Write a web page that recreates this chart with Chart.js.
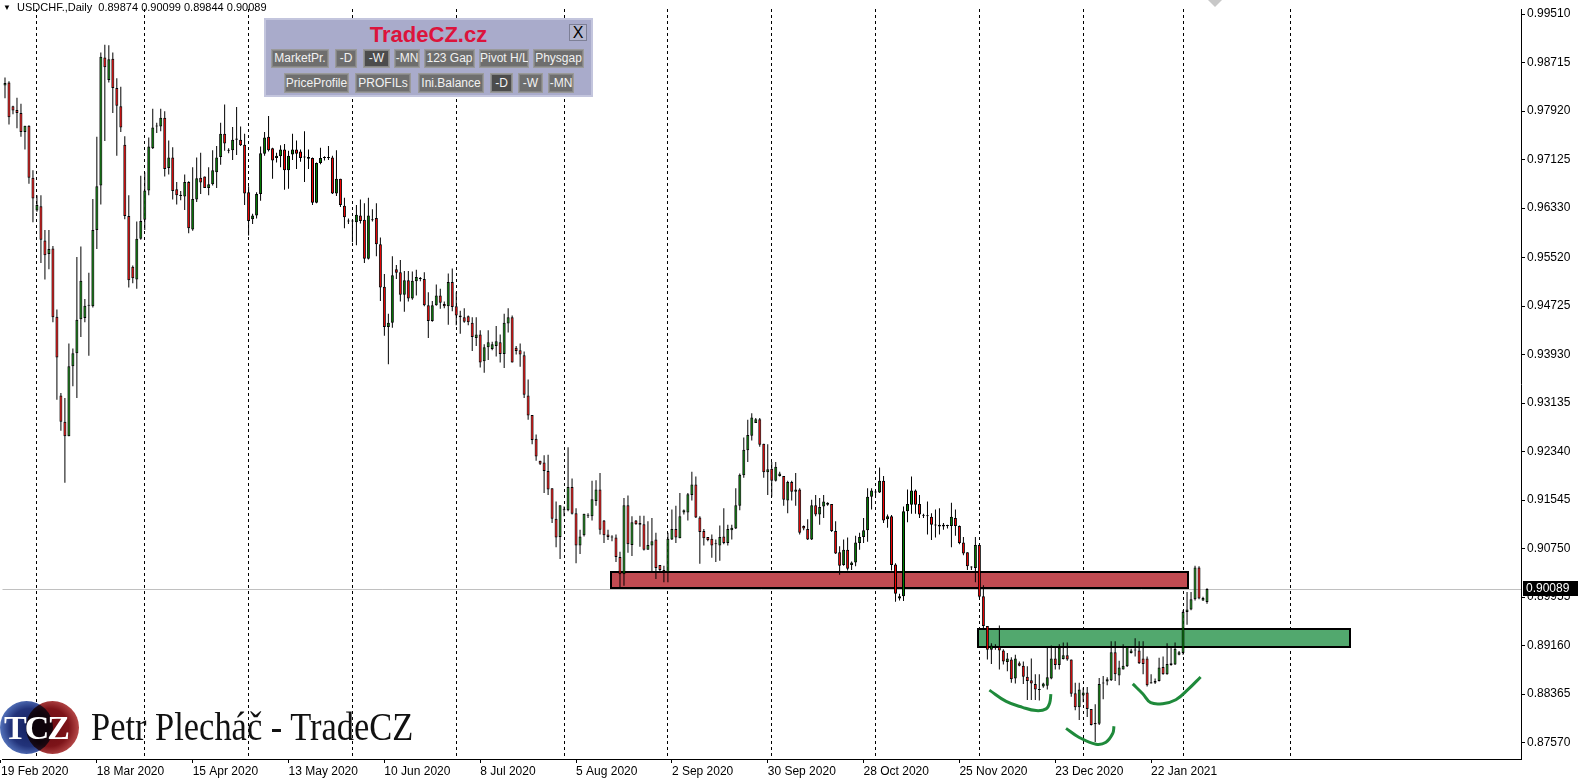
<!DOCTYPE html>
<html>
<head>
<meta charset="utf-8">
<script src="https://cdn.jsdelivr.net/npm/chart.js@4.4.1/dist/chart.umd.min.js"></script>
<style>
  html, body { margin: 0; padding: 0; background: #fff; }
  #wrap { position: relative; width: 1587px; height: 781px; overflow: hidden; }
  #chart { position: absolute; left: 0; top: 0; }
  #hdr { position: absolute; left: 3px; top: 1px; font: 11px "Liberation Sans", Arial, sans-serif; color: #000; white-space: pre; }
  #hdr .tri { font-size: 8px; position: relative; top: -1px; }
  #panel { position: absolute; left: 264px; top: 18px; width: 329px; height: 79px; box-sizing: border-box;
           background: #a9abcb; border: 2px solid #c3c5dd; }
  #panel .title { position: absolute; left: 0; right: 0; top: 2px; text-align: center;
                  font: bold 22px "Liberation Sans", Arial, sans-serif; color: #dc143c; }
  #panel .close { position: absolute; left: 303px; top: 4px; width: 18px; height: 17px; box-sizing: border-box;
                  border: 1px solid #7d7f96; background: #b5b7cf; font: 16px "Liberation Sans", Arial, sans-serif;
                  line-height: 15px; text-align: center; color: #000; }
  #panel .btn { position: absolute; box-sizing: border-box; background: #6e6e6e; border: 1px solid #9a9a9a;
                box-shadow: inset 0 0 0 1px #858585;
                color: #f2f2f2; font: 12px "Liberation Sans", Arial, sans-serif; text-align: center;
                white-space: nowrap; overflow: hidden; }
  #panel .r1 { top: 29px; height: 19px; line-height: 17px; }
  #panel .r2 { top: 53px; height: 20px; line-height: 18px; }
  #panel .dark { background: #4c4c4c; }
  #logo { position: absolute; left: 0; top: 701px; width: 80px; height: 54px; }
  #logo .c { position: absolute; top: 0; width: 53px; height: 53px; border-radius: 50%; }
  #logo .blue { left: 0; background: radial-gradient(circle at 55% 50%, #14215e 0%, #22337a 48%, #5c7dc6 78%, #6d8dd2 100%); }
  #logo .red { left: 26px; background: radial-gradient(circle at 45% 50%, #6a0c12 0%, #7d1419 48%, #bf5150 78%, #c86060 100%);
               mix-blend-mode: multiply; }
  #logo .tcz { position: absolute; left: 4px; top: 8px; font: bold 34px "Liberation Serif", "Times New Roman", serif;
               color: #fff; letter-spacing: -2px; }
  #sig { position: absolute; left: 91px; top: 702px; font: 41px "Liberation Serif", "Times New Roman", serif;
         color: #111; transform: scaleX(0.84); transform-origin: left top; white-space: nowrap; }
  #shift { position: absolute; left: 1208px; top: 0; width: 0; height: 0;
           border-left: 7px solid transparent; border-right: 7px solid transparent; border-top: 7px solid #c8c8c8; }
</style>
</head>
<body>
<div id="wrap">
  <canvas id="chart" width="1587" height="781"></canvas>
  <div id="hdr"><span class="tri">&#9660;</span>  USDCHF.,Daily  0.89874 0.90099 0.89844 0.90089</div>
  <div id="panel">
    <div class="title">TradeCZ.cz</div>
    <div class="close">X</div>
    <div class="btn r1" style="left:5px;width:58px">MarketPr.</div>
    <div class="btn r1" style="left:69px;width:22px">-D</div>
    <div class="btn r1 dark" style="left:97px;width:27px">-W</div>
    <div class="btn r1" style="left:128px;width:26px">-MN</div>
    <div class="btn r1" style="left:158px;width:51px">123 Gap</div>
    <div class="btn r1" style="left:213px;width:50px">Pivot H/L</div>
    <div class="btn r1" style="left:267px;width:51px">Physgap</div>
    <div class="btn r2" style="left:18px;width:65px">PriceProfile</div>
    <div class="btn r2" style="left:89px;width:56px">PROFILs</div>
    <div class="btn r2" style="left:152px;width:66px">Ini.Balance</div>
    <div class="btn r2 dark" style="left:224px;width:23px">-D</div>
    <div class="btn r2" style="left:252px;width:25px">-W</div>
    <div class="btn r2" style="left:282px;width:26px">-MN</div>
  </div>
  <div id="logo"><div class="c blue"></div><div class="c red"></div><div class="tcz">TCZ</div></div>
  <div id="sig">Petr Plecháč - TradeCZ</div>
  <div id="shift"></div>
</div>
<script>
// daily USDCHF candles (bar 0 = first visible bar)
const opens = [
  0.9834,0.9839,0.9800,0.9794,0.9789,0.9758,0.9768,0.9683,0.9629,0.9636,
  0.9580,0.9558,0.9567,0.9455,0.9326,0.9283,0.9259,0.9374,0.9395,0.9451,
  0.9453,0.9473,0.9472,0.9597,0.9670,0.9880,0.9843,0.9878,0.9830,0.9800,
  0.9737,0.9620,0.9537,0.9516,0.9583,0.9614,0.9662,0.9731,0.9767,0.9767,
  0.9781,0.9699,0.9716,0.9664,0.9655,0.9652,0.9676,0.9598,0.9647,0.9683,
  0.9685,0.9666,0.9672,0.9692,0.9717,0.9755,0.9727,0.9728,0.9745,0.9745,
  0.9737,0.9659,0.9615,0.9621,0.9656,0.9722,0.9750,0.9731,0.9715,0.9718,
  0.9729,0.9695,0.9721,0.9729,0.9726,0.9716,0.9717,0.9715,0.9642,0.9707,
  0.9715,0.9715,0.9716,0.9657,0.9681,0.9637,0.9611,0.9611,0.9610,0.9621,
  0.9614,0.9550,0.9613,0.9617,0.9574,0.9504,0.9438,0.9445,0.9533,0.9528,
  0.9491,0.9515,0.9485,0.9513,0.9517,0.9517,0.9474,0.9448,0.9474,0.9490,
  0.9476,0.9472,0.9512,0.9472,0.9457,0.9454,0.9456,0.9445,0.9420,0.9426,
  0.9382,0.9405,0.9402,0.9407,0.9413,0.9394,0.9444,0.9454,0.9404,0.9400,
  0.9392,0.9326,0.9294,0.9255,0.9219,0.9216,0.9202,0.9174,0.9124,0.9094,
  0.9138,0.9138,0.9176,0.9133,0.9080,0.9097,0.9129,0.9128,0.9153,0.9172,
  0.9121,0.9098,0.9093,0.9093,0.9061,0.9033,0.9146,0.9081,0.9121,0.9117,
  0.9115,0.9073,0.9080,0.9090,0.9048,0.9040,0.9036,0.9090,0.9107,0.9092,
  0.9134,0.9134,0.9163,0.9180,0.9126,0.9104,0.9094,0.9091,0.9082,0.9080,
  0.9095,0.9084,0.9105,0.9108,0.9145,0.9195,0.9236,0.9260,0.9281,0.9287,
  0.9247,0.9200,0.9206,0.9186,0.9194,0.9194,0.9154,0.9184,0.9168,0.9172,
  0.9112,0.9107,0.9090,0.9146,0.9131,0.9144,0.9147,0.9148,0.9104,0.9069,
  0.9048,0.9073,0.9048,0.9052,0.9084,0.9094,0.9105,0.9160,0.9167,0.9167,
  0.9186,0.9123,0.9128,0.9049,0.8993,0.8997,0.9136,0.9147,0.9170,0.9148,
  0.9130,0.9128,0.9127,0.9113,0.9114,0.9114,0.9112,0.9112,0.9125,0.9112,
  0.9085,0.9069,0.9044,0.9043,0.9081,0.8997,0.8948,0.8909,0.8912,0.8914,
  0.8908,0.8889,0.8893,0.8862,0.8887,0.8883,0.8865,0.8859,0.8853,0.8843,
  0.8849,0.8850,0.8862,0.8895,0.8884,0.8894,0.8900,0.8893,0.8838,0.8815,
  0.8834,0.8839,0.8812,0.8789,0.8788,0.8854,0.8857,0.8859,0.8905,0.8867,
  0.8877,0.8882,0.8904,0.8908,0.8908,0.8895,0.8895,0.8856,0.8855,0.8858,
  0.8881,0.8869,0.8884,0.8885,0.8901,0.8904,0.8971,0.8975,0.8992,0.9044,
  0.8990,0.89874
];
const highs = [
  0.9847,0.9841,0.9801,0.9814,0.9804,0.9768,0.9769,0.9695,0.9654,0.9654,
  0.9597,0.9597,0.9571,0.9467,0.9330,0.9322,0.9411,0.9403,0.9553,0.9570,
  0.9484,0.9527,0.9648,0.9750,0.9888,0.9901,0.9900,0.9888,0.9846,0.9832,
  0.9751,0.9654,0.9539,0.9611,0.9686,0.9692,0.9749,0.9796,0.9773,0.9796,
  0.9792,0.9744,0.9733,0.9676,0.9661,0.9688,0.9677,0.9700,0.9716,0.9724,
  0.9685,0.9700,0.9728,0.9735,0.9773,0.9803,0.9731,0.9766,0.9799,0.9767,
  0.9755,0.9669,0.9624,0.9659,0.9734,0.9758,0.9784,0.9732,0.9724,0.9736,
  0.9738,0.9727,0.9755,0.9744,0.9729,0.9759,0.9729,0.9716,0.9708,0.9732,
  0.9718,0.9735,0.9719,0.9728,0.9681,0.9650,0.9616,0.9613,0.9638,0.9647,
  0.9641,0.9650,0.9631,0.9641,0.9585,0.9525,0.9460,0.9554,0.9540,0.9548,
  0.9530,0.9530,0.9529,0.9532,0.9520,0.9528,0.9495,0.9481,0.9508,0.9501,
  0.9480,0.9526,0.9534,0.9495,0.9465,0.9469,0.9457,0.9454,0.9454,0.9433,
  0.9410,0.9433,0.9414,0.9440,0.9426,0.9460,0.9469,0.9457,0.9407,0.9411,
  0.9398,0.9352,0.9294,0.9262,0.9219,0.9228,0.9229,0.9174,0.9152,0.9146,
  0.9144,0.9241,0.9190,0.9141,0.9106,0.9132,0.9133,0.9186,0.9187,0.9199,
  0.9122,0.9106,0.9097,0.9098,0.9070,0.9158,0.9162,0.9128,0.9122,0.9129,
  0.9129,0.9120,0.9125,0.9101,0.9048,0.9047,0.9101,0.9139,0.9145,0.9166,
  0.9139,0.9166,0.9201,0.9193,0.9128,0.9107,0.9094,0.9098,0.9090,0.9113,
  0.9141,0.9114,0.9114,0.9174,0.9198,0.9257,0.9286,0.9297,0.9289,0.9289,
  0.9247,0.9246,0.9217,0.9217,0.9201,0.9194,0.9186,0.9186,0.9199,0.9174,
  0.9113,0.9123,0.9155,0.9163,0.9158,0.9163,0.9151,0.9148,0.9120,0.9079,
  0.9090,0.9093,0.9054,0.9096,0.9101,0.9125,0.9174,0.9174,0.9172,0.9208,
  0.9194,0.9131,0.9130,0.9051,0.9001,0.9144,0.9172,0.9193,0.9172,0.9163,
  0.9132,0.9152,0.9133,0.9139,0.9141,0.9117,0.9114,0.9150,0.9139,0.9113,
  0.9094,0.9069,0.9046,0.9094,0.9082,0.9015,0.8948,0.8920,0.8918,0.8949,
  0.8910,0.8904,0.8897,0.8901,0.8890,0.8890,0.8882,0.8895,0.8869,0.8869,
  0.8855,0.8913,0.8916,0.8912,0.8918,0.8921,0.8921,0.8893,0.8855,0.8855,
  0.8847,0.8848,0.8812,0.8820,0.8863,0.8866,0.8864,0.8923,0.8923,0.8891,
  0.8918,0.8915,0.8911,0.8928,0.8923,0.8923,0.8898,0.8869,0.8862,0.8896,
  0.8898,0.8920,0.8912,0.8921,0.8907,0.8974,0.9004,0.9004,0.9047,0.9046,
  0.8996,0.90099
];
const lows = [
  0.9813,0.9770,0.9787,0.9764,0.9750,0.9729,0.9673,0.9610,0.9627,0.9543,
  0.9516,0.9533,0.9446,0.9319,0.9268,0.9183,0.9259,0.9341,0.9322,0.9422,
  0.9446,0.9391,0.9470,0.9566,0.9639,0.9743,0.9839,0.9789,0.9719,0.9758,
  0.9615,0.9503,0.9510,0.9501,0.9581,0.9597,0.9654,0.9730,0.9756,0.9759,
  0.9685,0.9688,0.9647,0.9639,0.9646,0.9630,0.9592,0.9596,0.9643,0.9656,
  0.9666,0.9654,0.9670,0.9666,0.9704,0.9727,0.9723,0.9712,0.9720,0.9735,
  0.9638,0.9588,0.9607,0.9616,0.9645,0.9719,0.9726,0.9681,0.9708,0.9700,
  0.9663,0.9665,0.9712,0.9697,0.9709,0.9676,0.9697,0.9638,0.9641,0.9705,
  0.9711,0.9712,0.9656,0.9653,0.9635,0.9600,0.9607,0.9577,0.9572,0.9608,
  0.9543,0.9549,0.9611,0.9554,0.9481,0.9424,0.9377,0.9437,0.9517,0.9480,
  0.9463,0.9480,0.9483,0.9490,0.9513,0.9472,0.9420,0.9447,0.9473,0.9468,
  0.9469,0.9442,0.9464,0.9441,0.9427,0.9445,0.9441,0.9399,0.9407,0.9372,
  0.9363,0.9384,0.9400,0.9390,0.9380,0.9371,0.9429,0.9380,0.9393,0.9373,
  0.9322,0.9286,0.9246,0.9219,0.9212,0.9166,0.9163,0.9117,0.9077,0.9058,
  0.9128,0.9136,0.9131,0.9051,0.9066,0.9095,0.9125,0.9121,0.9145,0.9098,
  0.9084,0.9089,0.9087,0.9053,0.9012,0.9014,0.9068,0.9063,0.9114,0.9078,
  0.9072,0.9073,0.9036,0.9025,0.9036,0.9020,0.9020,0.9089,0.9084,0.9092,
  0.9131,0.9121,0.9154,0.9125,0.9050,0.9080,0.9087,0.9060,0.9053,0.9055,
  0.9082,0.9080,0.9090,0.9107,0.9138,0.9191,0.9217,0.9252,0.9281,0.9242,
  0.9191,0.9163,0.9160,0.9185,0.9193,0.9145,0.9133,0.9154,0.9145,0.9098,
  0.9105,0.9089,0.9089,0.9128,0.9114,0.9125,0.9145,0.9102,0.9066,0.9032,
  0.9047,0.9039,0.9040,0.9046,0.9073,0.9084,0.9086,0.9139,0.9161,0.9166,
  0.9117,0.9109,0.9039,0.8988,0.8990,0.8989,0.9118,0.9132,0.9132,0.9125,
  0.9125,0.9098,0.9089,0.9093,0.9098,0.9106,0.9108,0.9077,0.9096,0.9082,
  0.9064,0.9040,0.9040,0.9020,0.8994,0.8944,0.8893,0.8886,0.8909,0.8877,
  0.8885,0.8874,0.8855,0.8854,0.8882,0.8853,0.8827,0.8827,0.8827,0.8826,
  0.8847,0.8844,0.8861,0.8877,0.8877,0.8893,0.8891,0.8832,0.8810,0.8794,
  0.8823,0.8799,0.8785,0.8758,0.8786,0.8828,0.8851,0.8858,0.8858,0.8851,
  0.8877,0.8881,0.8903,0.8898,0.8886,0.8869,0.8849,0.8854,0.8853,0.8857,
  0.8868,0.8868,0.8883,0.8884,0.8900,0.8901,0.8950,0.8974,0.8990,0.8992,
  0.8989,0.89844
];
const closes = [
  0.9838,0.9782,0.9793,0.9789,0.9758,0.9768,0.9683,0.9649,0.9638,0.9581,
  0.9556,0.9566,0.9454,0.9388,0.9283,0.9259,0.9374,0.9395,0.9450,0.9514,
  0.9473,0.9473,0.9597,0.9669,0.9881,0.9864,0.9877,0.9830,0.9801,0.9765,
  0.9620,0.9515,0.9518,0.9583,0.9612,0.9662,0.9734,0.9765,0.9768,0.9781,
  0.9697,0.9716,0.9661,0.9654,0.9653,0.9676,0.9600,0.9648,0.9682,0.9675,
  0.9666,0.9672,0.9695,0.9716,0.9755,0.9739,0.9727,0.9745,0.9747,0.9736,
  0.9657,0.9612,0.9621,0.9656,0.9723,0.9749,0.9728,0.9711,0.9719,0.9729,
  0.9695,0.9719,0.9729,0.9722,0.9715,0.9716,0.9714,0.9642,0.9707,0.9715,
  0.9715,0.9716,0.9657,0.9681,0.9638,0.9618,0.9611,0.9611,0.9622,0.9612,
  0.9550,0.9621,0.9615,0.9574,0.9503,0.9438,0.9445,0.9523,0.9527,0.9491,
  0.9515,0.9485,0.9514,0.9520,0.9517,0.9474,0.9448,0.9474,0.9490,0.9478,
  0.9472,0.9512,0.9471,0.9457,0.9454,0.9447,0.9446,0.9422,0.9426,0.9380,
  0.9405,0.9413,0.9410,0.9415,0.9394,0.9445,0.9454,0.9380,0.9399,0.9393,
  0.9327,0.9293,0.9253,0.9226,0.9214,0.9202,0.9172,0.9124,0.9093,0.9146,
  0.9138,0.9176,0.9132,0.9080,0.9095,0.9132,0.9129,0.9156,0.9172,0.9106,
  0.9097,0.9094,0.9093,0.9061,0.9033,0.9146,0.9082,0.9118,0.9115,0.9114,
  0.9073,0.9081,0.9087,0.9043,0.9040,0.9036,0.9091,0.9107,0.9093,0.9128,
  0.9138,0.9164,0.9180,0.9126,0.9102,0.9092,0.9089,0.9080,0.9082,0.9094,
  0.9084,0.9107,0.9109,0.9146,0.9196,0.9237,0.9261,0.9290,0.9287,0.9245,
  0.9200,0.9205,0.9186,0.9209,0.9198,0.9155,0.9184,0.9168,0.9172,0.9101,
  0.9108,0.9090,0.9146,0.9131,0.9143,0.9152,0.9150,0.9104,0.9067,0.9047,
  0.9073,0.9042,0.9052,0.9085,0.9094,0.9105,0.9160,0.9170,0.9167,0.9186,
  0.9121,0.9128,0.9048,0.9001,0.8997,0.9136,0.9148,0.9170,0.9147,0.9131,
  0.9129,0.9128,0.9114,0.9113,0.9111,0.9111,0.9112,0.9127,0.9112,0.9084,
  0.9067,0.9046,0.9044,0.9081,0.8996,0.8948,0.8909,0.8916,0.8914,0.8908,
  0.8890,0.8895,0.8861,0.8895,0.8883,0.8865,0.8858,0.8854,0.8844,0.8843,
  0.8854,0.8864,0.8895,0.8884,0.8913,0.8900,0.8893,0.8837,0.8815,0.8844,
  0.8839,0.8812,0.8786,0.8787,0.8853,0.8854,0.8861,0.8905,0.8869,0.8880,
  0.8883,0.8914,0.8908,0.8908,0.8887,0.8886,0.8851,0.8854,0.8858,0.8880,
  0.8869,0.8886,0.8887,0.8911,0.8905,0.8971,0.8975,0.8992,0.9044,0.8993,
  0.8994,0.90089
];

// time axis labels (bar index of each label) and the dashed separators
const xTickBars = [-1, 23, 47, 71, 95, 119, 143, 167, 191, 215, 239, 263, 287];
const xTickLabels = ['19 Feb 2020', '18 Mar 2020', '15 Apr 2020', '13 May 2020', '10 Jun 2020', '8 Jul 2020',
  '5 Aug 2020', '2 Sep 2020', '30 Sep 2020', '28 Oct 2020', '25 Nov 2020', '23 Dec 2020', '22 Jan 2021'];
const separatorBars = [8, 35, 61, 87, 113, 140, 166, 192, 218, 244, 270, 295, 322];

// price axis labels
const yTicks = [0.99510, 0.98715, 0.97920, 0.97125, 0.96330, 0.95520, 0.94725, 0.93930,
  0.93135, 0.92340, 0.91545, 0.90750, 0.89955, 0.89160, 0.88365, 0.87570];
const lastPrice = 0.90089;

// drawn zones: [from bar, to bar, top price, bottom price]
const resistZone = [151.75, 296.2, 0.90362, 0.90108];
const supportZone = [243.7, 336.9, 0.89434, 0.89131];

// hand drawn smiles under the lows: [bar, price]
const smileLeft = [[246.5, 0.8843], [250.7, 0.88245], [254.8, 0.88148], [258.2, 0.88095], [260.7, 0.88122], [261.6, 0.8822], [261.9, 0.88365]];
const smileHead = [[265.7, 0.87803], [268.9, 0.87658], [273.2, 0.87544], [275.7, 0.87577], [277.4, 0.87722], [277.7, 0.87836]];
const smileRight = [[282.4, 0.88532], [284.9, 0.8837], [286.9, 0.88224], [289.9, 0.88208], [293.2, 0.88273], [296.4, 0.88451], [299.4, 0.88646]];

const FONT = '"Liberation Sans", Arial, sans-serif';
const UP = '#008000', DOWN = '#ff0000';

const bodies = opens.map((o, i) => ({ x: i, y: [o, closes[i]] }));
const wicks = lows.map((l, i) => ({ x: i, y: [l, highs[i]] }));
const bodyColors = opens.map((o, i) => closes[i] > o ? UP : (closes[i] < o ? DOWN : '#000'));

function smile(points) {
  return {
    type: 'line',
    data: points.map(p => ({ x: p[0], y: p[1] })),
    borderColor: '#1f8a3b',
    borderWidth: 3,
    tension: 0.4,
    pointRadius: 0,
    order: 0
  };
}

const overlay = {
  id: 'overlay',
  beforeDatasetsDraw(chart) {
    const { ctx, chartArea: a, scales: { x, y } } = chart;
    ctx.save();
    const py = Math.round(y.getPixelForValue(lastPrice)) + 0.5;
    ctx.strokeStyle = '#c0c0c0';
    ctx.lineWidth = 1;
    ctx.beginPath();
    ctx.moveTo(a.left, py);
    ctx.lineTo(a.right, py);
    ctx.stroke();

    [[resistZone, '#c24b52'], [supportZone, '#52a86e']].forEach(([z, col]) => {
      const x1 = Math.round(x.getPixelForValue(z[0])), x2 = Math.round(x.getPixelForValue(z[1]));
      const y1 = Math.round(y.getPixelForValue(z[2])), y2 = Math.round(y.getPixelForValue(z[3]));
      ctx.fillStyle = col;
      ctx.fillRect(x1, y1, x2 - x1, y2 - y1);
      ctx.strokeStyle = '#000';
      ctx.lineWidth = 2;
      ctx.strokeRect(x1, y1, x2 - x1, y2 - y1);
    });
    ctx.restore();
  },
  afterDraw(chart) {
    const { ctx, chartArea: a, scales: { y } } = chart;
    const py = Math.round(y.getPixelForValue(lastPrice));
    ctx.save();
    ctx.fillStyle = '#000';
    ctx.fillRect(a.right + 2, py - 8, 55, 15);
    ctx.fillStyle = '#fff';
    ctx.font = '12px ' + FONT;
    ctx.textBaseline = 'middle';
    ctx.textAlign = 'left';
    ctx.fillText(lastPrice.toFixed(5), a.right + 5, py);
    ctx.restore();
  }
};

new Chart(document.getElementById('chart'), {
  type: 'bar',
  data: {
    datasets: [
      {
        data: bodies,
        grouped: false,
        backgroundColor: bodyColors,
        borderColor: '#000',
        borderWidth: 1,
        borderSkipped: false,
        barThickness: 3,
        maxBarThickness: 3,
        minBarLength: 1,
        inflateAmount: 0,
        order: 1
      },
      {
        data: wicks,
        grouped: false,
        backgroundColor: '#000',
        borderWidth: 0,
        barThickness: 1,
        maxBarThickness: 1,
        inflateAmount: 0,
        order: 2
      },
      smile(smileLeft),
      smile(smileHead),
      smile(smileRight)
    ]
  },
  options: {
    responsive: false,
    animation: false,
    events: [],
    layout: { padding: 0 },
    plugins: { legend: { display: false }, tooltip: { enabled: false } },
    scales: {
      x: {
        type: 'linear',
        position: 'bottom',
        min: -0.625,
        max: -0.625 + 1521 / 4,
        offset: false,
        afterFit: s => { s.height = 22; },
        afterBuildTicks: s => { s.ticks = xTickBars.map(v => ({ value: v })); },
        grid: { offset: false, drawOnChartArea: false, drawTicks: true, tickLength: 4, color: '#000' },
        border: { display: true, color: '#000', width: 1 },
        ticks: {
          autoSkip: false, maxRotation: 0, minRotation: 0, align: 'start', padding: 1,
          color: '#000', font: { family: FONT, size: 12 },
          callback: (v, i) => xTickLabels[i]
        }
      },
      sep: {
        type: 'linear',
        position: 'top',
        min: -0.625,
        max: -0.625 + 1521 / 4,
        offset: false,
        afterFit: s => { s.height = 0; },
        afterBuildTicks: s => { s.ticks = separatorBars.map(v => ({ value: v })); },
        grid: { offset: false, drawOnChartArea: true, drawTicks: false, color: '#000', lineWidth: 1 },
        border: { display: false, dash: [3, 3] },
        ticks: { display: false }
      },
      y: {
        type: 'linear',
        position: 'right',
        min: 0.87301,
        max: 0.99591,
        afterFit: s => { s.width = 66; },
        afterBuildTicks: s => { s.ticks = yTicks.map(v => ({ value: v })); },
        grid: { drawOnChartArea: false, drawTicks: true, tickLength: 4, color: '#000' },
        border: { display: true, color: '#000', width: 1 },
        ticks: {
          padding: 2, color: '#000', font: { family: FONT, size: 12 },
          callback: v => v.toFixed(5)
        }
      }
    }
  },
  plugins: [overlay]
});
</script>
</body>
</html>
